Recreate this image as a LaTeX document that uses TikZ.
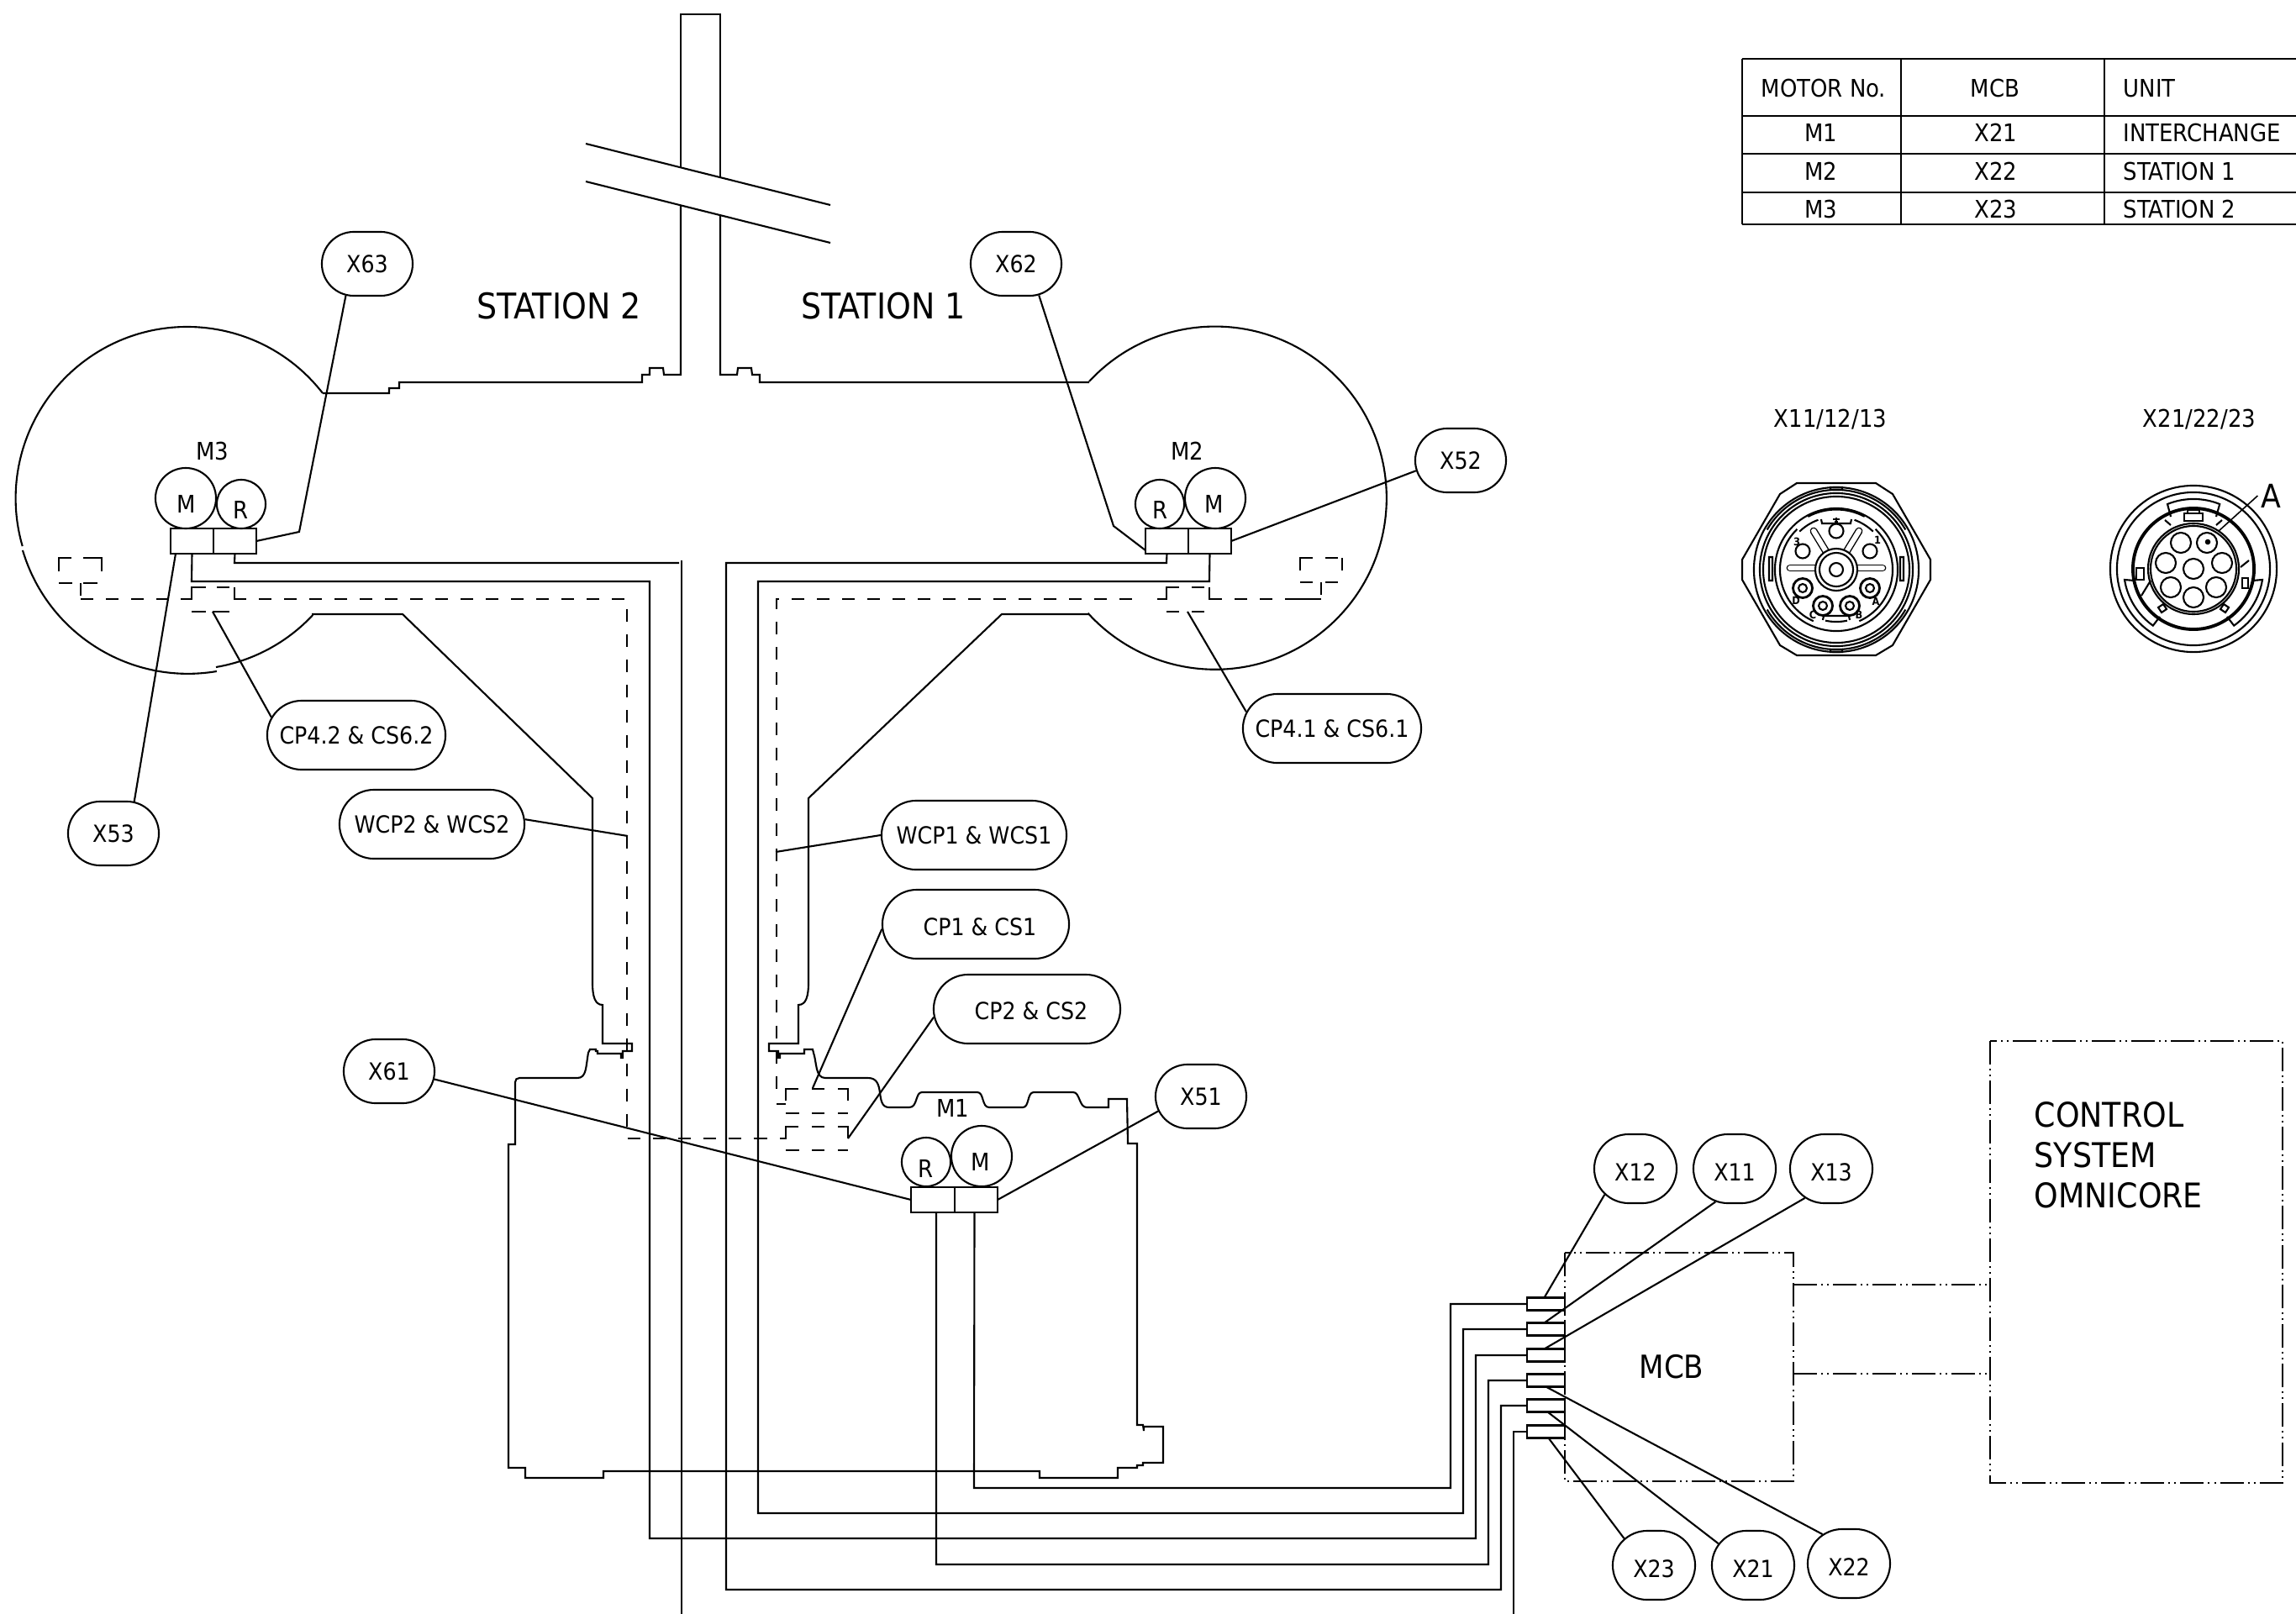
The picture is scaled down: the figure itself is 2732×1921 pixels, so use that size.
\documentclass[tikz,border=0pt]{standalone}
\usepackage{fontspec}
\setmainfont{DejaVu Sans Condensed}
\usetikzlibrary{shapes.misc}

\tikzset{
	wire/.style={line width=.6pt, line join=miter},
	lbl/.style={inner sep=0, font=\fontsize{8.2}{9}\selectfont},
	big/.style={inner sep=0, font=\fontsize{11.5}{13.6}\selectfont},
	tag/.style={draw, wire, rounded rectangle, rounded rectangle arc length=180, inner sep=0, minimum height=.82cm, fill=white, text height=.21cm, text depth=0pt, font=\fontsize{8}{9}\selectfont},
	xtag/.style={tag, minimum width=1.08cm, minimum height=.76cm},
	mcbtag/.style={tag, minimum width=.98cm, text height=.29cm},
	longtag/.style={tag, minimum width=2.18cm},
	plug/.style={draw, wire, rectangle, inner sep=0, outer sep=0, minimum width=.51cm, minimum height=.3cm},
	mcbplug/.style={draw, wire, rectangle, inner sep=0, outer sep=0, minimum width=.45cm, minimum height=.15cm},
	hidden/.style={wire, dash pattern=on .15cm off .15cm},
	phantomline/.style={wire, dash pattern=on .28cm off .05cm on .02cm off .05cm on .02cm off .05cm},
	slot/.style={line width=.4pt, double=white, double distance=.06cm, line cap=round},
	pinlbl/.style={inner sep=0, font=\fontsize{3.6}{4}\selectfont\bfseries}
}

\begin{document}
\begin{tikzpicture}[x=.01cm, y=-.01cm]
	\useasboundingbox (0,0) rectangle (2732,1921);

% draw track outline
	\draw[wire] (1296,454) arc[start angle=137.2, end angle=-137.8, radius=2.04cm];
	\draw[wire] (384,468) arc[start angle=37.8, end angle=196.2, radius=2.04cm];
	\draw[wire] (27,655) arc[start angle=196.5, end angle=279.6, radius=2.05cm];
	\draw[wire] (257,794) arc[start angle=279.6, end angle=317, radius=2.04cm];
	\draw[wire] (384,468) -- (463,468) -- (463,462) -- (475,462) -- (475,455) -- (764,455) -- (764,446) -- (773,446) -- (773,438) -- (789,438) -- (790,446) -- (810,446) -- (810,244);
	\draw[wire] (810,199) -- (810,17) -- (857,17) -- (857,211);
	\draw[wire] (857,256) -- (857,446) -- (877,446) -- (878,438) -- (894,438) -- (895,446) -- (904,446) -- (904,455) -- (1296,455);
	\draw[wire] (697,171) -- (988,244);
	\draw[wire] (697,216) -- (988,289);

% interchange outline
	\draw[wire] (371,731) -- (479,731) -- (705,950) -- (705,1170)
		.. controls (705,1186) and (708,1196) .. (717,1196) -- (717,1242) -- (752,1242) -- (752,1251) -- (741,1251) -- (741,1259) -- (739,1259) -- (739,1254) -- (711,1254) -- (711,1251) -- (709,1251) -- (709,1249) -- (702,1249) -- (700,1253)
		.. controls (697,1270) and (698,1283) .. (687,1283) -- (618,1283)
		.. controls (615,1283) and (613,1285) .. (613,1288) -- (613,1362) -- (605,1362) -- (605,1747) -- (625,1747) -- (625,1759) -- (718,1759) -- (718,1751) -- (1237,1751) -- (1237,1759) -- (1330,1759) -- (1330,1747) -- (1353,1747) -- (1353,1744) -- (1360,1744) -- (1360,1741) -- (1384,1741) -- (1384,1698) -- (1361,1698) -- (1361,1703) -- (1360,1696) -- (1353,1696) -- (1353,1361) -- (1342,1361) -- (1341,1308) -- (1319,1308) -- (1319,1318) -- (1293,1318)
		.. controls (1284,1318) and (1285,1300) .. (1277,1300) -- (1230,1300)
		.. controls (1222,1300) and (1225,1318) .. (1217,1318) -- (1177,1318)
		.. controls (1168,1318) and (1171,1300) .. (1163,1300) -- (1097,1300)
		.. controls (1089,1300) and (1092,1318) .. (1082,1318) -- (1058,1318)
		.. controls (1040,1318) and (1055,1283) .. (1033,1283) -- (982,1283)
		.. controls (970,1283) and (972,1265) .. (968,1253) -- (967,1249) -- (957,1249) -- (957,1254) -- (928,1254) -- (928,1259) -- (926,1259) -- (926,1251) -- (915,1251) -- (915,1242) -- (950,1242) -- (950,1196)
		.. controls (959,1196) and (962,1186) .. (962,1170) -- (962,950) -- (1192,731) -- (1295,731);

% motors and their plugs
	\draw[wire] (221,593) circle[radius=.36cm];
	\draw[wire] (287,600) circle[radius=.29cm];
	\draw[wire] (1446,593) circle[radius=.36cm];
	\draw[wire] (1380,600) circle[radius=.29cm];
	\draw[wire] (1168,1376) circle[radius=.36cm];
	\draw[wire] (1102,1383) circle[radius=.29cm];

	\node[plug] (plugMthreeM) at (228.5,644) {};
	\node[plug] (plugMthreeR) at (279.5,644) {};
	\node[plug] (plugMtwoR) at (1388.5,644) {};
	\node[plug] (plugMtwoM) at (1439.5,644) {};
	\node[plug, minimum width=.52cm] (plugMoneR) at (1110,1428) {};
	\node[plug, minimum width=.51cm] (plugMoneM) at (1161.5,1428) {};

	\node[lbl] (nameMthree) at (253,537) {M3};
	\node[lbl] (nameMtwo) at (1413,537) {M2};
	\node[lbl] (nameMone) at (1134,1319) {M1};
	\node[lbl] (txtMthreeM) at (222,600) {M};
	\node[lbl] (txtMthreeR) at (287,607) {R};
	\node[lbl] (txtMtwoM) at (1445,600) {M};
	\node[lbl] (txtMtwoR) at (1380,607) {R};
	\node[lbl] (txtMoneM) at (1167,1383) {M};
	\node[lbl] (txtMoneR) at (1102,1391) {R};

	\node[big, font=\fontsize{12}{14}\selectfont] (stationTwo) at (665,364) {STATION 2};
	\node[big, font=\fontsize{12}{14}\selectfont] (stationOne) at (1051,364) {STATION 1};

% hidden cables, small boxes first
	\draw[wire] (70,680) -- (70,664) -- (85,664) (99,664) -- (121,664) -- (121,680) (70,694) -- (86,694) (99,694) -- (116,694);
	\draw[wire] (96,694) -- (96,709);
	\draw[hidden] (96,713) -- (200,713);
	\draw[wire] (215,713) -- (228,713) -- (228,699) -- (245,699) (258,699) -- (273,699) (279,699) -- (279,713) -- (293,713) (228,728) -- (245,728) (253,728) -- (273,728);
	\draw[hidden] (308,713) -- (746,713) -- (746,1355) -- (900,1355);
	\draw[wire] (900,1355) -- (913,1355) (928,1355) -- (935,1355) -- (935,1341) -- (950,1341) (966,1341) -- (981,1341) (997,1341) -- (1009,1341) -- (1009,1355) (935,1369) -- (951,1369) (966,1369) -- (981,1369) (997,1369) -- (1009,1369);

	\draw[wire] (1547,679) -- (1547,664) -- (1562,664) (1577,664) -- (1592,664) (1597,664) -- (1597,679) (1547,693) -- (1562,693) (1577,693) -- (1592,693) (1572,693) -- (1572,708) (1530,713) -- (1572,713);
	\draw[wire] (1454,713) -- (1439,713) -- (1439,699) (1433,699) -- (1418,699) (1403,699) -- (1388,699) -- (1388,713) -- (1377,713) (1388,728) -- (1403,728) (1418,728) -- (1433,728);
	\draw[hidden] (1469,713) -- (1530,713);
	\draw[hidden] (1347,713) -- (924,713) -- (924,1303);
	\draw[wire] (924,1314) -- (935,1314) (935,1310) -- (935,1296) -- (950,1296) (966,1296) -- (981,1296) (997,1296) -- (1009,1296) -- (1009,1310) (935,1325) -- (951,1325) (966,1325) -- (981,1325) (997,1325) -- (1009,1325);

% MCB and control system
	\draw[phantomline] (1862,1491) rectangle (2134,1763);
	\draw[phantomline] (2368,1239) rectangle (2716,1765);
	\draw[phantomline] (2134,1529) -- (2368,1529);
	\draw[phantomline] (2134,1635) -- (2368,1635);
	\node[big, font=\fontsize{10.8}{12}\selectfont] (nameMCB) at (1989,1627) {MCB};
	\node[big, align=left, anchor=west] (nameCS) at (2420,1375) {CONTROL\\SYSTEM\\OMNICORE};

	\node[mcbplug] (plugXtwelve) at (1839.5,1552) {};
	\node[mcbplug] (plugXeleven) at (1839.5,1582) {};
	\node[mcbplug] (plugXthirteen) at (1839.5,1613) {};
	\node[mcbplug] (plugXtwentytwo) at (1839.5,1643) {};
	\node[mcbplug] (plugXtwentyone) at (1839.5,1673) {};
	\node[mcbplug] (plugXtwentythree) at (1839.5,1704) {};

% cables
	\draw[wire] ([xshift=-.02cm]plugMoneM.south) -- (1159,1771) -- (1726,1771) |- (plugXtwelve.west);
	\draw[wire] (plugMtwoM.south) -- (1439,692) -- (902,692) -- (902,1801) -- (1741,1801) |- (plugXeleven.west);
	\draw[wire] (plugMthreeM.south) -- (228,692) -- (773,692) -- (773,1831) -- (1756,1831) |- (plugXthirteen.west);
	\draw[wire] ([xshift=.04cm]plugMoneR.south) -- (1114,1862) -- (1771,1862) |- (plugXtwentytwo.west);
	\draw[wire] (plugMtwoR.south) -- (1388,670) -- (864,670) -- (864,1892) -- (1786,1892) |- (plugXtwentyone.west);
	\draw[wire] (plugMthreeR.south) -- (279,670) -- (808,670);
	\draw[wire] (811,667) -- (811,1921);
	\draw[wire] (plugXtwentythree.west) -| (1801,1921);

% callouts
	\node[xtag] (tagXsixtythree) at (437,314) {X63};
	\node[xtag] (tagXsixtytwo) at (1209,314) {X62};
	\node[xtag] (tagXfiftytwo) at (1738,548) {X52};
	\node[xtag] (tagXfiftythree) at (135,992) {X53};
	\node[xtag] (tagXsixtyone) at (463,1275) {X61};
	\node[xtag] (tagXfiftyone) at (1429,1305) {X51};
	\node[mcbtag] (tagXtwelve) at (1946,1391) {X12};
	\node[mcbtag] (tagXeleven) at (2064,1391) {X11};
	\node[mcbtag] (tagXthirteen) at (2179,1391) {X13};
	\node[mcbtag] (tagXtwentythree) at (1968,1863) {X23};
	\node[mcbtag] (tagXtwentyone) at (2086,1863) {X21};
	\node[mcbtag] (tagXtwentytwo) at (2200,1861) {X22};
	\node[longtag, minimum width=2.12cm] (tagCPfourTwo) at (424,875) {CP4.2 \& CS6.2};
	\node[longtag, minimum width=2.12cm] (tagCPfourOne) at (1585,867) {CP4.1 \& CS6.1};
	\node[longtag, minimum width=2.2cm] (tagWCPtwo) at (514,981) {WCP2 \& WCS2};
	\node[longtag, minimum width=2.2cm] (tagWCPone) at (1159,994) {WCP1 \& WCS1};
	\node[longtag, minimum width=2.22cm, text height=.27cm] (tagCPone) at (1161,1100) {\hspace{.1cm}CP1 \& CS1};
	\node[longtag, minimum width=2.22cm, text height=.25cm] (tagCPtwo) at (1222,1201) {\hspace{.1cm}CP2 \& CS2};

	\coordinate (endCPfourTwo) at (253,728);
	\coordinate (endCPfourOne) at (1413,728);
	\coordinate (endWCPtwo) at (747,995);
	\coordinate (endWCPone) at (923,1014);
	\coordinate (endCPone) at (967,1295);
	\coordinate (endCPtwo) at (1009,1355);

	\draw[wire] (tagXsixtythree.236) -- (356,633) -- (plugMthreeR.east);
	\draw[wire] (tagXsixtytwo.306) -- (1325,626) -- ([yshift=.04cm]plugMtwoR.south west);
	\draw[wire] (tagXfiftytwo.193) -- (plugMtwoM.east);
	\draw[wire] (tagXfiftythree.57) -- ([xshift=.06cm]plugMthreeM.south west);
	\draw[wire] (tagXsixtyone.350) -- (plugMoneR.west);
	\draw[wire] (tagXfiftyone.199) -- (plugMoneM.east);
	\draw[wire] (tagXtwelve.220) -- ([xshift=-.02cm]plugXtwelve.north);
	\draw[wire] (tagXeleven.240) -- ([xshift=-.02cm]plugXeleven.north);
	\draw[wire] (tagXthirteen.228) -- ([xshift=-.02cm]plugXthirteen.north);
	\draw[wire] (tagXtwentythree.138) -- ([xshift=.03cm]plugXtwentythree.south);
	\draw[wire] (tagXtwentyone.148) -- ([xshift=.02cm]plugXtwentyone.south);
	\draw[wire] (tagXtwentytwo.132) -- (plugXtwentytwo.south);
	\draw[wire] (tagCPfourTwo.168) -- (endCPfourTwo);
	\draw[wire] (tagCPfourOne.169) -- (endCPfourOne);
	\draw[wire] (tagWCPtwo.3) -- (endWCPtwo);
	\draw[wire] (tagWCPone.180) -- (endWCPone);
	\draw[wire] (tagCPone.183) -- (endCPone);
	\draw[wire] (tagCPtwo.185) -- (endCPtwo);

% table
	\foreach \y in {70,138,183,229,267}
		\draw[line width=.45pt] (2073,\y) -- (2732,\y);
	\foreach \x in {2073,2262,2504}
		\draw[line width=.45pt] (\x,70) -- (\x,267);
	\node[lbl] (headMotor) at (2170,105) {MOTOR No.};
	\node[lbl] (headMCB) at (2374,105) {MCB};
	\node[lbl, anchor=west] (headUnit) at (2526,105) {UNIT};
	\node[lbl] (rowMone) at (2167,158) {M1};
	\node[lbl] (rowMtwo) at (2167,204) {M2};
	\node[lbl] (rowMthree) at (2167,249) {M3};
	\node[lbl] (rowXone) at (2375,158) {X21};
	\node[lbl] (rowXtwo) at (2375,204) {X22};
	\node[lbl] (rowXthree) at (2375,249) {X23};
	\node[lbl, anchor=west] (rowUone) at (2526,158) {INTERCHANGE};
	\node[lbl, anchor=west] (rowUtwo) at (2526,204) {STATION 1};
	\node[lbl, anchor=west] (rowUthree) at (2526,249) {STATION 2};

% connector X11/12/13
	\node[lbl] (nameConnOne) at (2178,499) {X11/12/13};
	\begin{scope}[shift={(2185,678)}]
		\draw[wire] (-47,-103) -- (47,-103) -- (67,-90) -- (112,-12) -- (112,12) -- (67,90) -- (47,102) -- (-47,102) -- (-67,90) -- (-112,12) -- (-112,-12) -- (-67,-90) -- cycle;
		\foreach \r in {.98cm,.91cm,.87cm,.73cm}
			\draw[wire] (0,0) circle[radius=\r];
		\draw[line width=.9pt] (118:.72cm) arc[start angle=118, end angle=62, radius=.72cm];
		\draw[wire] (150:.95cm) arc[start angle=150, end angle=30, radius=.95cm];
		\draw[wire] (-150:.95cm) arc[start angle=-150, end angle=-30, radius=.95cm];
		\draw[wire] (46:.67cm) arc[start angle=46, end angle=-66, radius=.67cm] (-78:.62cm) arc[start angle=-78, end angle=-102, radius=.62cm] (-114:.67cm) arc[start angle=-114, end angle=-226, radius=.67cm] (134:.63cm) arc[start angle=134, end angle=110, radius=.63cm] (70:.63cm) arc[start angle=70, end angle=46, radius=.63cm];
		\draw[wire] (-18,-60) -- (-17,-55) -- (17,-55) -- (18,-60);
		\draw[wire] (-16,60) -- (-15,55) -- (15,55) -- (16,60) (-80,-15) rectangle (-76,13) (80,-15) rectangle (76,13) (-7,-98) rectangle (7,-95) (-7,98) rectangle (7,95);
		\draw[slot] (-55,-2) -- (-20,-2);
		\draw[slot] (55,-2) -- (20,-2);
		\draw[slot] (-27,-46) -- (-10,-18);
		\draw[slot] (27,-46) -- (10,-18);
		\draw[wire, fill=white] (0,0) circle[radius=.25cm];
		\draw[wire] (0,0) circle[radius=.2cm] (0,0) circle[radius=.08cm];
		\draw[wire] (0,-46) circle[radius=.085cm] (-40,-22) circle[radius=.085cm] (40,-22) circle[radius=.085cm];
		\foreach \px/\py in {-40/22,40/22,-16/43,16/43} {
			\draw[line width=.8pt] (\px,\py) circle[radius=.115cm];
			\draw[wire] (\px,\py) circle[radius=.05cm];
		}
		\draw[line width=.8pt] (0,-62) -- (0,-57) (-4,-60) -- (4,-60) (-2,-57) -- (2,-57);
		\node[pinlbl] (pinThree) at (-47,-33) {3};
		\node[pinlbl] (pinOne) at (49,-35) {1};
		\node[pinlbl] (pinD) at (-48,37) {D};
		\node[pinlbl] (pinC) at (-28,54) {C};
		\node[pinlbl] (pinB) at (27,54) {B};
		\node[pinlbl] (pinA) at (47,38) {A};
	\end{scope}

% connector X21/22/23
	\node[lbl] (nameConnTwo) at (2617,499) {X21/22/23};
	\begin{scope}[shift={(2610,677)}]
		\draw[wire] (0,0) circle[radius=.99cm] (0,0) circle[radius=.91cm];
		\draw[line width=1.1pt] (0,0) circle[radius=.72cm];
		\draw[wire] (0,0) circle[radius=.54cm] (0,0) circle[radius=.51cm];
		\foreach \px/\py in {0/0,-15/-31,16/-31,-33/-7,34/-7,-27/22,27/22,0/34}
			\draw[wire] (\px,\py) circle[radius=.12cm];
		\fill (17,-32) circle[radius=.033cm];
		\draw[wire] (-27,-62) -- (-31,-77) arc[start angle=112, end angle=68, radius=.83cm] -- (27,-62);
		\draw[wire] (-11,-57) rectangle (11,-66) (-7,-66) -- (-7,-70) -- (7,-70) -- (7,-66);
		\draw[wire] (-70,14) -- (-82,13) arc[start angle=189, end angle=234.5, radius=.83cm] -- (-40,57);
		\draw[wire] (70,14) -- (82,13) arc[start angle=-9, end angle=-54.5, radius=.83cm] -- (40,57);
		\draw[wire] (-68,-1) rectangle (-59,13) (58,11) rectangle (65,23);
		\draw[wire] (-42,46) -- (-36,42) -- (-32,48) -- (-38,52) -- cycle (42,46) -- (36,42) -- (32,48) -- (38,52) -- cycle;
		\draw[wire] (-34,-58) -- (-27,-52) (34,-58) -- (27,-52) (56,-2) -- (66,-10);
		\draw[wire] (-62,32) -- (-51,14);
	\end{scope}
	\node[lbl, font=\fontsize{11}{12}\selectfont] (nameA) at (2702,590) {A};
	\coordinate (endA) at (2640,632);
	\draw[line width=.45pt] (nameA.west) ++(-3,0) -- (endA);
\end{tikzpicture}
\end{document}
